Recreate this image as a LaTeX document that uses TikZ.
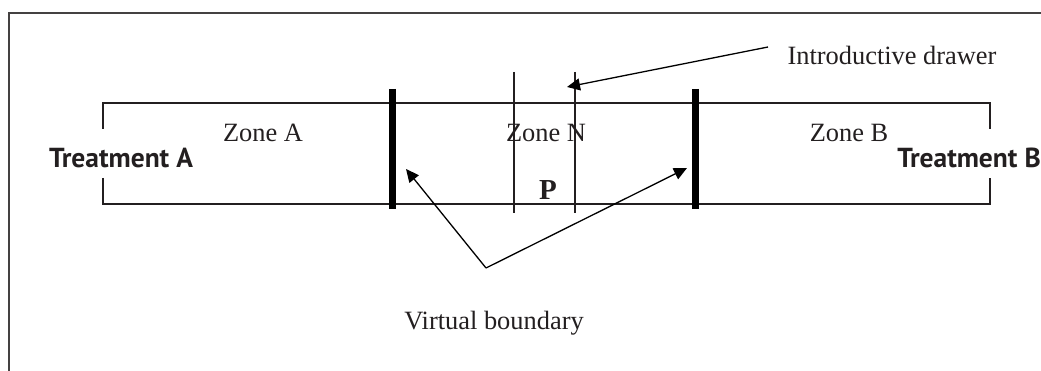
\documentclass[tikz,border=0pt]{standalone}
\usepackage{fontspec}
\setmainfont{Liberation Serif}
\newfontfamily\labelsans{PT Sans}
\usetikzlibrary{arrows.meta}
\definecolor{ink}{HTML}{231F20}
\tikzset{
  frameline/.style={draw=ink!85, line width=2pt},
  channel/.style={draw=ink, line width=2pt},
  thinline/.style={draw=ink, line width=1.3pt},
  boundarybar/.style={draw=black, line width=7pt},
  pointer/.style={draw=black, line width=1.3pt, -{Triangle[length=13pt,width=12pt]}},
  serif/.style={text=ink, font=\fontsize{26.4}{30}\selectfont, inner sep=0pt},
  treat/.style={text=ink, font=\labelsans\bfseries\fontsize{27.5}{31}\selectfont, inner sep=0pt},
}
\begin{document}
\begin{tikzpicture}[x=1pt,y=-1pt]
\useasboundingbox (0,0) rectangle (1041,371);
% outer frame (only its left and top edges fall inside the page)
\draw[frameline] (9,380) -- (9,13) -- (1050,13);
% channel walls, open at both ends where the treatments enter
\draw[channel] (102.5,129) -- (102.5,103) -- (990,103) -- (990,129);
\draw[channel] (102.5,178) -- (102.5,204) -- (990,204) -- (990,178);
% introductive drawer (two thin walls)
\draw[thinline] (514,72) -- (514,213);
\draw[thinline] (575,72) -- (575,213);
% virtual boundaries
\draw[boundarybar] (392,89) -- (392,209);
\draw[boundarybar] (695.5,89) -- (695.5,209);
% labels
\node[serif] (zoneA) at (263,133) {Zone A};
\node[serif] (zoneN) at (546,133) {Zone N};
\node[serif] (zoneB) at (849,133) {Zone B};
\node[text=ink, font=\bfseries\fontsize{29}{32}\selectfont, inner sep=0pt] (P) at (548,190) {P};
\node[treat] (trA) at (121,158) {Treatment A};
\node[treat] (trB) at (969,158) {Treatment B};
\node[serif] (drawer) at (892,55) {Introductive drawer};
\node[serif] (vbound) at (494,323) {Virtual boundary};
% pointer ends
\coordinate (drawerTail) at (768,47);
\coordinate (drawerTip) at (567,87);
\coordinate (vbTail) at (486,268);
\coordinate (leftTip) at (406,169);
\coordinate (rightTip) at (687,168);
\draw[pointer] (drawerTail) -- (drawerTip);
\draw[pointer] (vbTail) -- (leftTip);
\draw[pointer] (vbTail) -- (rightTip);
\end{tikzpicture}
\end{document}
